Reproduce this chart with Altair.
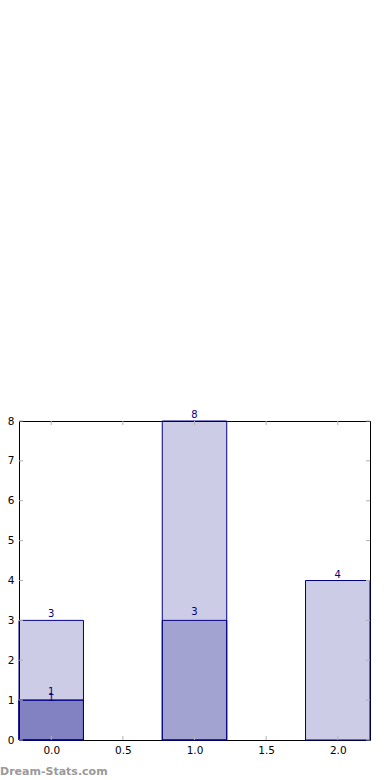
import altair as alt
import pandas as pd

positions = [0, 1, 2]
series_a = [3, 8, 4]
series_b = [1, 3, 0]
series_c = [1, 0, 0]
x_ticks = [0.0, 0.5, 1.0, 1.5, 2.0]
y_ticks = [0, 1, 2, 3, 4, 5, 6, 7, 8]

rows = []
for name, vals in (("a", series_a), ("b", series_b), ("c", series_c)):
    for p, v in zip(positions, vals):
        if v > 0:
            rows.append({"series": name, "pos": p, "value": v})
df = pd.DataFrame(rows)

NAVY = "#000080"
W, H = 351, 319
HALF = 0.225

xscale = alt.Scale(domain=[-HALF, 2 + HALF], nice=False, zero=False)
yscale = alt.Scale(domain=[0, 8], nice=False)

xaxis = alt.Axis(values=x_ticks, format=".1f", title=None, grid=False,
                 tickSize=0, domain=False, labelPadding=5, labelOverlap=False,
                 labelFont="DejaVu Sans", labelFontSize=10.5, labelColor="black")
yaxis = alt.Axis(values=y_ticks, format="d", title=None, grid=False,
                 tickSize=0, domain=False, labelPadding=5, labelOverlap=False,
                 labelFont="DejaVu Sans", labelFontSize=10.5, labelColor="black")

base = alt.Chart(df).transform_calculate(
    x0=f"datum.pos - {HALF}", x1=f"datum.pos + {HALF}"
)

bars = base.mark_bar(
    fill=NAVY, fillOpacity=0.2, stroke=NAVY, strokeWidth=1, strokeOpacity=1
).encode(
    x=alt.X("x0:Q", scale=xscale, axis=xaxis),
    x2="x1:Q",
    y=alt.Y("value:Q", scale=yscale, axis=yaxis),
    y2=alt.datum(0),
)

tick_color = "#b0b0b0"
xt = alt.Chart(pd.DataFrame({"t": x_ticks}))
yt = alt.Chart(pd.DataFrame({"t": y_ticks}))
ticks = [
    xt.mark_rule(color=tick_color, strokeWidth=1).encode(
        x=alt.X("t:Q", scale=xscale, axis=xaxis), y=alt.value(H), y2=alt.value(H - 4)),
    xt.mark_rule(color=tick_color, strokeWidth=1).encode(
        x=alt.X("t:Q", scale=xscale, axis=xaxis), y=alt.value(0), y2=alt.value(4)),
    yt.mark_rule(color=tick_color, strokeWidth=1).encode(
        y=alt.Y("t:Q", scale=yscale, axis=yaxis), x=alt.value(0), x2=alt.value(4)),
    yt.mark_rule(color=tick_color, strokeWidth=1).encode(
        y=alt.Y("t:Q", scale=yscale, axis=yaxis), x=alt.value(W), x2=alt.value(W - 4)),
]

def labels(series, dy):
    return base.transform_filter(alt.datum.series == series).mark_text(
        color=NAVY, font="DejaVu Sans", fontSize=10, baseline="bottom", dy=dy
    ).encode(
        x=alt.X("pos:Q", scale=xscale, axis=xaxis),
        y=alt.Y("value:Q", scale=yscale, axis=yaxis),
        text=alt.Text("value:Q", format="d"),
    )

watermark = alt.Chart(pd.DataFrame({"t": ["Dream-Stats.com"]})).mark_text(
    align="left", baseline="alphabetic", font="DejaVu Sans", fontWeight="bold",
    fontSize=11, color="#999999"
).encode(x=alt.value(-19), y=alt.value(354), text="t:N")

chart = alt.layer(
    bars, *ticks, labels("a", -1), labels("b", -3), labels("c", 3), watermark
).properties(
    width=W, height=H,
    autosize=alt.AutoSizeParams(type="none"),
    padding={"left": 19, "top": 421, "right": 20, "bottom": 40},
).configure(
    background="white",
    view=alt.ViewConfig(stroke="black", strokeWidth=1),
)

chart.save("out.html", embed_options={"renderer": "svg", "actions": False})
